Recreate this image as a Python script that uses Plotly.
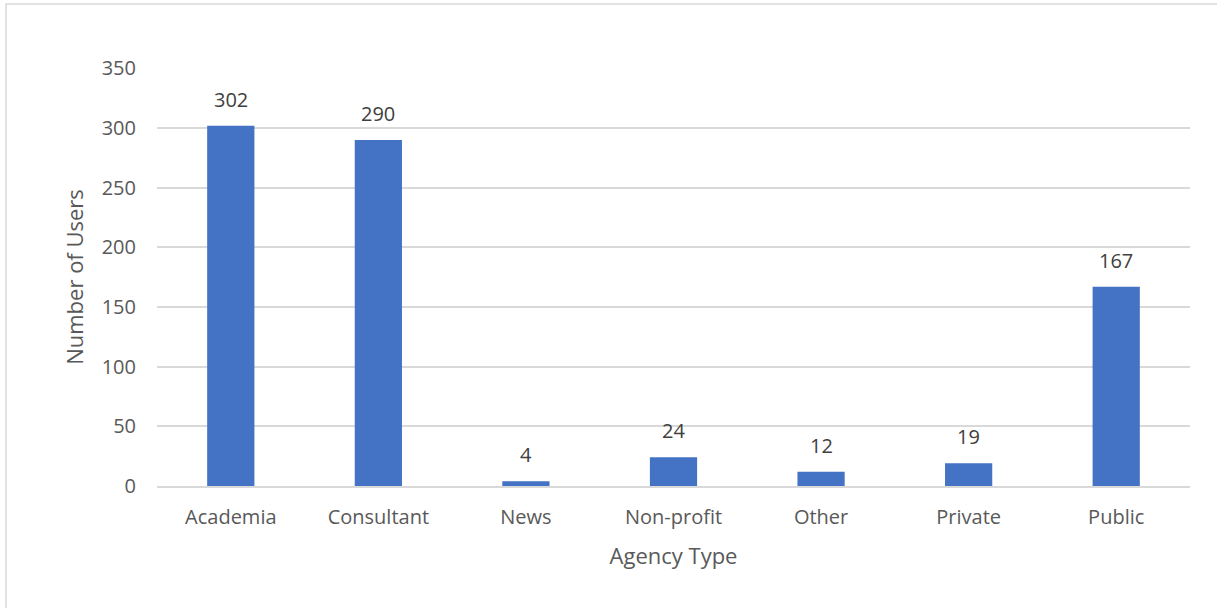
import plotly.graph_objects as go

categories = ["Academia", "Consultant", "News", "Non-profit", "Other", "Private", "Public"]
users = [302, 290, 4, 24, 12, 19, 167]
y_ticks = [0, 50, 100, 150, 200, 250, 300, 350]

W, H = 1217, 608
L, R, T, B = 157, 27, 68, 122
pw, ph = W - L - R, H - T - B
FONT = "Open Sans"

fig = go.Figure(go.Bar(
    x=categories, y=users,
    marker=dict(color="#4472C4", line=dict(width=0)),
    hoverinfo="x+y",
))

for c, v in zip(categories, users):
    fig.add_annotation(
        x=c, y=v, text=str(v), showarrow=False, yanchor="bottom", yshift=11,
        font=dict(family=FONT, size=20, color="#404040"),
    )

fig.update_layout(
    width=W, height=H,
    margin=dict(l=L, r=R, t=T, b=B),
    paper_bgcolor="white", plot_bgcolor="white",
    bargap=0.68,
    showlegend=False,
    font=dict(family=FONT, size=20, color="#595959"),
    xaxis=dict(
        title=dict(text="Agency Type", font=dict(size=22, color="#595959"), standoff=20),
        showgrid=False, showline=True, linecolor="#d9d9d9", linewidth=1.5,
        ticks="", ticklabelstandoff=12, tickfont=dict(size=20, color="#595959"),
    ),
    yaxis=dict(
        title=dict(text="Number of Users", font=dict(size=22, color="#595959"), standoff=11),
        range=[0, 350.3], tickvals=y_ticks, showgrid=True, gridcolor="#d9d9d9", gridwidth=1.5,
        zeroline=False, showline=False, ticks="", ticklabelstandoff=20,
        tickfont=dict(size=20, color="#595959"),
    ),
    shapes=[dict(
        type="rect", xref="paper", yref="paper",
        x0=(6 - L) / pw, x1=1 + (W + 10 - (W - R)) / pw,
        y0=-(H + 10 - (H - B)) / ph, y1=1 + (T - 4) / ph,
        line=dict(color="#d9d9d9", width=1.5), fillcolor="rgba(0,0,0,0)", layer="below",
    )],
)

fig.write_html("out.html", config={"displayModeBar": False},
               post_script="document.body.style.margin='0';")
